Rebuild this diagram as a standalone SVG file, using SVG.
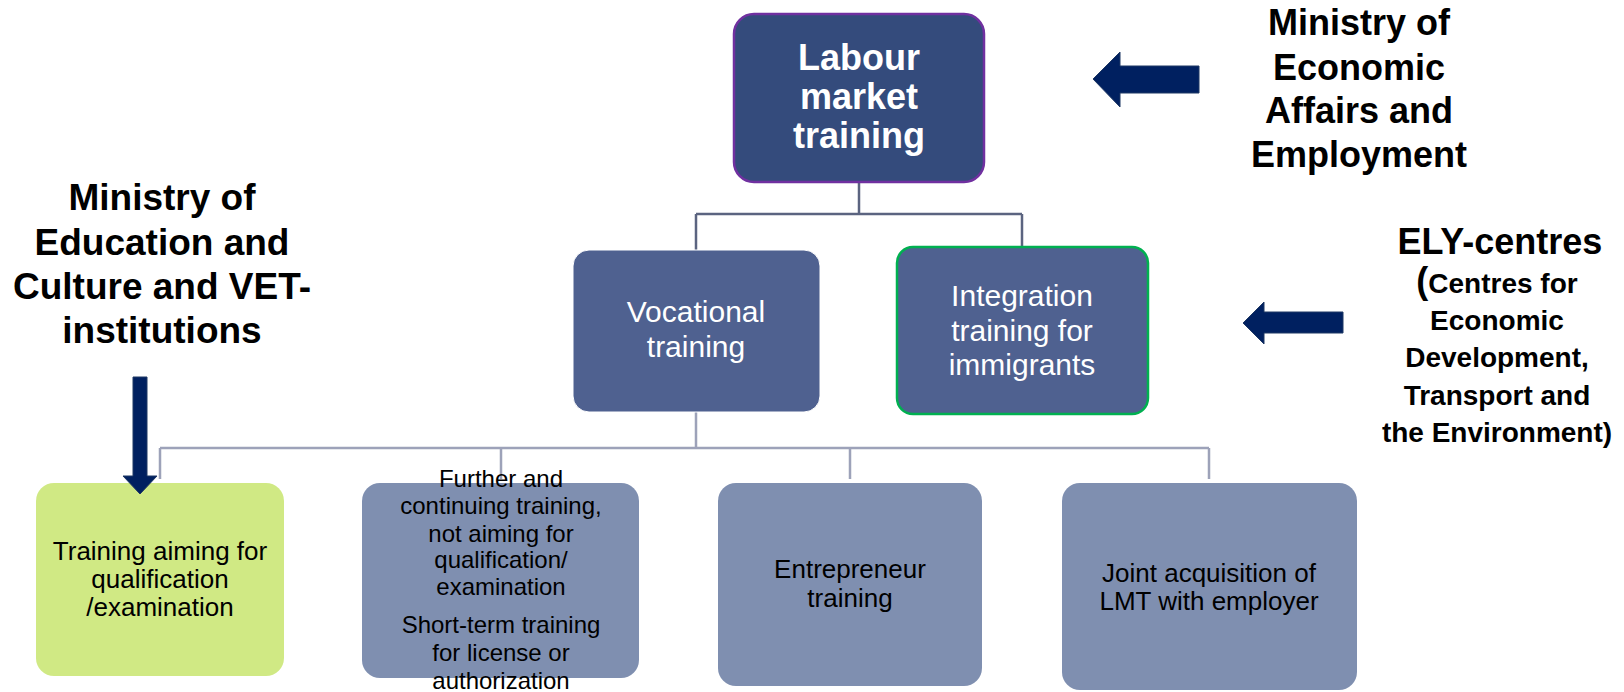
<svg xmlns="http://www.w3.org/2000/svg" width="1624" height="692" viewBox="0 0 1624 692">
  <style>
    .t { font-family: "Liberation Sans", Arial, sans-serif; text-anchor: middle; }
    .lbl { font-weight: bold; fill: #000; }
    .wb { font-weight: bold; fill: #fff; font-size: 36px; }
    .wr { fill: #fff; font-size: 30px; }
    .br { fill: #000; font-size: 26px; }
    .sm { font-size: 24px; }
    .mid { fill: #4F6190; }
    .low { fill: #7F8FB0; }
    .arrow { fill: #002060; stroke: #1F3864; stroke-width: 1; }
    .c1 { fill: none; stroke: #5B6480; stroke-width: 2.5; }
    .c2 { fill: none; stroke: #9DA2B9; stroke-width: 2.5; }
  </style>

  <!-- connectors -->
  <g id="connectors">
    <path class="c1" d="M859 182 V214 M696 214 H1022 M696 214 V250 M1022 214 V247"/>
    <path class="c2" d="M696 412 V448 M160 448 H1209 M160 448 V479 M501 448 V479 M850 448 V479 M1209 448 V479"/>
  </g>

  <!-- top node -->
  <g id="labour-market-training">
    <rect x="734" y="14" width="250" height="168" rx="20" fill="#344B7C" stroke="#7030A0" stroke-width="2.5"/>
    <text class="t wb" x="859" y="70">Labour</text>
    <text class="t wb" x="859" y="109">market</text>
    <text class="t wb" x="859" y="148">training</text>
  </g>

  <!-- second level -->
  <g id="vocational-training">
    <rect class="mid" x="573" y="250" width="247" height="162" rx="16" stroke="#ffffff" stroke-width="1"/>
    <text class="t wr" x="696" y="322">Vocational</text>
    <text class="t wr" x="696" y="357">training</text>
  </g>
  <g id="integration-training">
    <rect class="mid" x="897" y="247" width="251" height="167" rx="16" stroke="#00B050" stroke-width="2.5"/>
    <text class="t wr" x="1022" y="306">Integration</text>
    <text class="t wr" x="1022" y="341">training for</text>
    <text class="t wr" x="1022" y="375">immigrants</text>
  </g>

  <!-- third level -->
  <g id="qualification-training">
    <rect x="36" y="483" width="248" height="193" rx="18" fill="#D0E984"/>
    <text class="t br" x="160" y="560">Training aiming for</text>
    <text class="t br" x="160" y="588">qualification</text>
    <text class="t br" x="160" y="616">/examination</text>
  </g>
  <g id="further-training">
    <rect class="low" x="362" y="483" width="277" height="195" rx="18"/>
    <text class="t br sm" x="501" y="487">Further and</text>
    <text class="t br sm" x="501" y="514">continuing training,</text>
    <text class="t br sm" x="501" y="542">not aiming for</text>
    <text class="t br sm" x="501" y="568">qualification/</text>
    <text class="t br sm" x="501" y="595">examination</text>
    <text class="t br sm" x="501" y="633">Short-term training</text>
    <text class="t br sm" x="501" y="661">for license or</text>
    <text class="t br sm" x="501" y="689">authorization</text>
  </g>
  <g id="entrepreneur-training">
    <rect class="low" x="718" y="483" width="264" height="203" rx="18"/>
    <text class="t br" x="850" y="578">Entrepreneur</text>
    <text class="t br" x="850" y="607">training</text>
  </g>
  <g id="joint-acquisition">
    <rect class="low" x="1062" y="483" width="295" height="207" rx="18"/>
    <text class="t br" x="1209" y="582">Joint acquisition of</text>
    <text class="t br" x="1209" y="610">LMT with employer</text>
  </g>

  <!-- responsible bodies -->
  <g id="ministry-economic-affairs">
    <text class="t lbl" font-size="36" x="1359" y="35">Ministry of</text>
    <text class="t lbl" font-size="36" x="1359" y="80">Economic</text>
    <text class="t lbl" font-size="36" x="1359" y="123">Affairs and</text>
    <text class="t lbl" font-size="36" x="1359" y="167">Employment</text>
    <polygon class="arrow" points="1093,79 1120,52 1120,66 1199,66 1199,93 1120,93 1120,107"/>
  </g>
  <g id="ely-centres">
    <text class="t lbl" font-size="36" x="1500" y="254">ELY-centres</text>
    <text class="t lbl" font-size="28" x="1497" y="293"><tspan font-size="36">(</tspan>Centres for</text>
    <text class="t lbl" font-size="28" x="1497" y="330">Economic</text>
    <text class="t lbl" font-size="28" x="1497" y="367">Development,</text>
    <text class="t lbl" font-size="28" x="1497" y="405">Transport and</text>
    <text class="t lbl" font-size="28" x="1497" y="442">the Environment)</text>
    <polygon class="arrow" points="1243,323 1264,302 1264,312 1343,312 1343,333 1264,333 1264,344"/>
  </g>
  <g id="ministry-education">
    <text class="t lbl" font-size="37" x="162" y="210">Ministry of</text>
    <text class="t lbl" font-size="37" x="162" y="255">Education and</text>
    <text class="t lbl" font-size="37" x="162" y="299">Culture and VET-</text>
    <text class="t lbl" font-size="37" x="162" y="343">institutions</text>
    <polygon class="arrow" points="133,377 147,377 147,476 157,476 140,494 123,476 133,476"/>
  </g>
</svg>
